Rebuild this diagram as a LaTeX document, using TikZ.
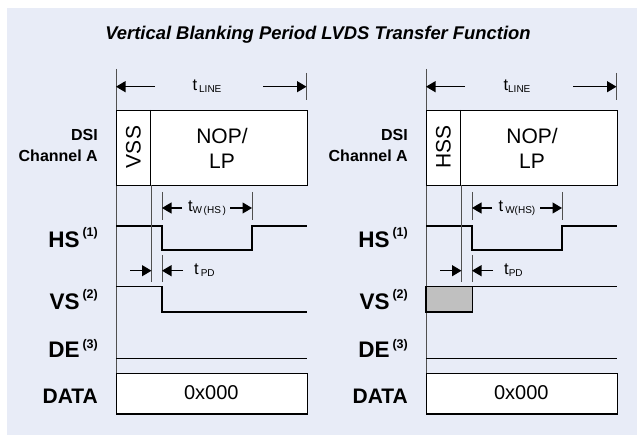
\documentclass[tikz,border=0pt]{standalone}
\usepackage{fontspec}
\setmainfont{Liberation Sans}
\usetikzlibrary{arrows.meta}
\definecolor{bgblue}{RGB}{232,236,247}
\definecolor{guidegray}{RGB}{80,80,80}
\definecolor{vsgray}{RGB}{192,192,192}
\newcommand\fs[1]{\fontsize{#1bp}{#1bp}\selectfont}
\newcommand\tsym[2]{{\fs{16.5}t}#1{\fs{10}\raisebox{-1.5bp}{#2}}}
\newcommand\siglabel[3]{{\fs{22.5}\bfseries #1}\hspace{3bp}{\fs{12.5}\bfseries\raisebox{#3bp}{#2}}}
\tikzset{
  sig/.style={line width=1.4bp, draw=black, line join=miter},
  guide/.style={line width=0.9bp, draw=guidegray},
  dimarrow/.style={line width=1.1bp, draw=black, -{Triangle[length=9.5bp,width=11bp]}},
  framebox/.style={draw=black, line width=1.4bp, fill=white, inner sep=0pt, anchor=north west},
  lbl/.style={inner sep=0pt, anchor=base east},
  plain/.style={inner sep=0pt},
}
\newcommand\drawpanel[4]{%
  % outer time boundary
  \coordinate (top) at (116,69);
  \coordinate (bottom) at (116,372.7);
  \draw[guide] (top) -- (bottom);
  % DSI packet box
  \node[framebox, minimum width=190.5bp, minimum height=75bp] (box) at (116,110) {};
  \coordinate (divtop) at (150.7,110);
  \coordinate (divbot) at (150.7,185);
  \draw[line width=1.4bp] (divtop) -- (divbot);
  \node[plain, font=\fs{21}, rotate=90] (cell) at (133.3,147) {#1};
  \node[plain, font=\fontsize{21bp}{25bp}\selectfont, align=center] (nop) at (222,148) {NOP/\\LP};
  % t_LINE
  \coordinate (tlA) at (116,86.7);
  \coordinate (tlB) at (155,86.7);
  \coordinate (tlC) at (263,86.7);
  \coordinate (tlD) at (306.5,86.7);
  \coordinate (tlTa) at (306.5,73);
  \coordinate (tlTb) at (306.5,100);
  \draw[guide] (tlTa) -- (tlTb);
  \draw[dimarrow] (tlB) -- (tlA);
  \draw[dimarrow] (tlC) -- (tlD);
  \node[plain] (tline) at (207,86) {#2};
  % HS
  \draw[sig] (116,226) -- (162,226) -- (162,250) -- (252,250) -- (252,226) -- (306.5,226);
  % t_W(HS)
  \coordinate (twTa) at (162,192);
  \coordinate (twTb) at (162,220);
  \coordinate (twTc) at (252,192);
  \coordinate (twTd) at (252,220);
  \draw[guide] (twTa) -- (twTb);
  \draw[guide] (twTc) -- (twTd);
  \coordinate (twA) at (162,208);
  \coordinate (twB) at (182,208);
  \coordinate (twC) at (230,208);
  \coordinate (twD) at (252,208);
  \draw[dimarrow] (twB) -- (twA);
  \draw[dimarrow] (twC) -- (twD);
  \node[plain] (tw) at (207,208) {#3};
  % t_PD
  \coordinate (pdLa) at (151.5,185);
  \coordinate (pdLb) at (151.5,282);
  \coordinate (pdRa) at (162,255);
  \coordinate (pdRb) at (162,282);
  \draw[guide] (pdLa) -- (pdLb);
  \draw[guide] (pdRa) -- (pdRb);
  \coordinate (pdA) at (130,270.7);
  \coordinate (pdB) at (151.5,270.7);
  \coordinate (pdC) at (183,270.7);
  \coordinate (pdD) at (162,270.7);
  \draw[dimarrow] (pdA) -- (pdB);
  \draw[dimarrow] (pdC) -- (pdD);
  \node[plain, anchor=west] (tpd) at (194,270) {#4};
  % DE
  \draw[sig] (116,358.7) -- (306.5,358.7);
  % DATA
  \node[framebox, minimum width=190.5bp, minimum height=40.6bp] (data) at (116,372.7) {};
  \node[plain, font=\fs{20}] (datatext) at (211.3,393) {0x000};
  % labels
  \node[lbl, font=\fs{16}\bfseries] (dsi) at (98,141) {DSI};
  \node[lbl, font=\fs{16}\bfseries] (chan) at (98,162) {Channel A};
  \node[lbl] (hs) at (98,248) {\siglabel{HS}{(1)}{11}};
  \node[lbl] (vs) at (98,310) {\siglabel{VS}{(2)}{11.5}};
  \node[lbl] (de) at (98,357) {\siglabel{DE}{(3)}{9}};
  \node[lbl, font=\fs{21}\bfseries] (datalbl) at (98,403) {DATA};
}
\begin{document}
\begin{tikzpicture}[x=1bp,y=-1bp]
\useasboundingbox (0,0) rectangle (637,435);
\fill[bgblue] (7,8) rectangle (637,435);
\node[plain, font=\fs{18.4}\bfseries\itshape] (title) at (318,35) {Vertical Blanking Period LVDS Transfer Function};
\begin{scope}[name prefix=L-]
  \drawpanel{VSS}{\tsym{\hspace{2bp}}{LINE}}{\tsym{}{W\,(HS\,)}}{\tsym{\hspace{2bp}}{PD}}
  \draw[sig] (116,286.7) -- (162,286.7) -- (162,312) -- (306.5,312);
\end{scope}
\begin{scope}[name prefix=R-, xshift=310bp]
  \drawpanel{HSS}{\tsym{}{LINE}}{\tsym{\hspace{2bp}}{W(HS)}}{\tsym{}{PD}}
  \draw[draw=black, line width=1.4bp, fill=vsgray] (116,286.7) rectangle (162.7,312);
  \draw[sig] (162.7,286.7) -- (306.5,286.7);
\end{scope}
\end{tikzpicture}
\end{document}
